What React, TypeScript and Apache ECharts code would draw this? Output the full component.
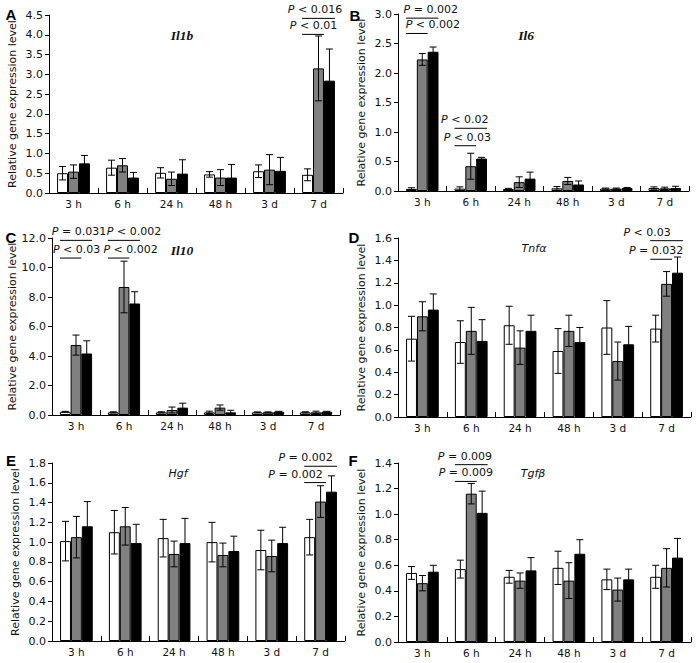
import React, { useEffect, useRef } from "react";
import * as echarts from "echarts";

const categories = ["3 h", "6 h", "24 h", "48 h", "3 d", "7 d"];

// Panel A: Il1b
const il1bWhite = [0.5, 0.64, 0.51, 0.47, 0.55, 0.46];
const il1bWhiteErr = [0.17, 0.19, 0.13, 0.07, 0.16, 0.15];
const il1bGray = [0.54, 0.7, 0.36, 0.39, 0.59, 3.15];
const il1bGrayErr = [0.17, 0.17, 0.17, 0.2, 0.38, 0.82];
const il1bBlack = [0.75, 0.39, 0.49, 0.39, 0.56, 2.84];
const il1bBlackErr = [0.2, 0.13, 0.35, 0.33, 0.34, 0.8];

// Panel B: Il6
const il6White = [0.035, 0.04, 0.035, 0.045, 0.04, 0.05];
const il6WhiteErr = [0.02, 0.03, 0.01, 0.03, 0.01, 0.02];
const il6Gray = [2.23, 0.42, 0.15, 0.17, 0.04, 0.045];
const il6GrayErr = [0.1, 0.22, 0.09, 0.06, 0.01, 0.02];
const il6Black = [2.36, 0.55, 0.21, 0.11, 0.05, 0.05];
const il6BlackErr = [0.08, 0.02, 0.11, 0.06, 0.01, 0.03];

// Panel C: Il10
const il10White = [0.22, 0.18, 0.18, 0.18, 0.18, 0.18];
const il10WhiteErr = [0.03, 0.04, 0.04, 0.08, 0.03, 0.04];
const il10Gray = [4.74, 8.68, 0.34, 0.5, 0.18, 0.18];
const il10GrayErr = [0.68, 1.75, 0.2, 0.18, 0.03, 0.08];
const il10Black = [4.17, 7.56, 0.5, 0.18, 0.22, 0.22];
const il10BlackErr = [0.86, 0.8, 0.3, 0.14, 0.03, 0.03];

// Panel D: Tnfa
const tnfWhite = [0.7, 0.67, 0.82, 0.59, 0.8, 0.79];
const tnfWhiteErr = [0.2, 0.19, 0.17, 0.2, 0.24, 0.12];
const tnfGray = [0.9, 0.77, 0.62, 0.77, 0.5, 1.19];
const tnfGrayErr = [0.13, 0.21, 0.15, 0.14, 0.17, 0.11];
const tnfBlack = [0.96, 0.68, 0.77, 0.67, 0.65, 1.29];
const tnfBlackErr = [0.14, 0.19, 0.14, 0.13, 0.16, 0.14];

// Panel E: Hgf
const hgfWhite = [1.01, 1.1, 1.04, 1.0, 0.92, 1.05];
const hgfWhiteErr = [0.2, 0.22, 0.19, 0.2, 0.2, 0.18];
const hgfGray = [1.05, 1.16, 0.88, 0.87, 0.86, 1.41];
const hgfGrayErr = [0.21, 0.19, 0.13, 0.12, 0.16, 0.16];
const hgfBlack = [1.16, 0.99, 0.99, 0.91, 0.99, 1.51];
const hgfBlackErr = [0.25, 0.19, 0.25, 0.15, 0.16, 0.16];

// Panel F: Tgfb
const tgfWhite = [0.54, 0.57, 0.51, 0.58, 0.49, 0.51];
const tgfWhiteErr = [0.05, 0.07, 0.05, 0.13, 0.08, 0.09];
const tgfGray = [0.46, 1.16, 0.48, 0.48, 0.41, 0.58];
const tgfGrayErr = [0.06, 0.08, 0.06, 0.14, 0.09, 0.15];
const tgfBlack = [0.55, 1.01, 0.56, 0.69, 0.49, 0.66];
const tgfBlackErr = [0.05, 0.17, 0.1, 0.11, 0.08, 0.15];

// y-axis ranges
const yMax = [4.5, 3.0, 12.0, 1.6, 1.8, 1.4];
const yInterval = [0.5, 0.5, 2.0, 0.2, 0.2, 0.2];

// significance annotations: [category, last bar compared (1 gray / 2 black), line level, text]
const annA = [[5, 2, 4.415, "< 0.016"], [5, 1, 4.01, "< 0.01"]];
const annB = [[0, 2, 2.93, "= 0.002"], [0, 1, 2.67, "< 0.002"], [1, 2, 1.063, "< 0.02"], [1, 1, 0.768, "< 0.03"]];
const annC = [[0, 2, 11.84, "= 0.031"], [0, 1, 10.64, "< 0.03"], [1, 2, 11.84, "< 0.002"], [1, 1, 10.64, "< 0.002"]];
const annD = [[5, 2, 1.576, "< 0.03"], [5, 1, 1.41, "= 0.032"]];
const annE = [[5, 2, 1.767, "= 0.002"], [5, 1, 1.602, "= 0.002"]];
const annF = [[1, 2, 1.387, "= 0.009"], [1, 1, 1.256, "= 0.009"]];
const annTextShift = [[-3.5, 0.5], [8.5, 16, -6, 2], [3, 6, 10, 12], [-19.5, -5], [-15, -19.6], [-6.3, 0]];

const geneNames = ["Il1b", "Il6", "Il10", "Tnfα", "Hgf", "Tgfβ"];
const panelLetters = ["A", "B", "C", "D", "E", "F"];

const panels = [
  { w: il1bWhite, we: il1bWhiteErr, g: il1bGray, ge: il1bGrayErr, b: il1bBlack, be: il1bBlackErr, ann: annA },
  { w: il6White, we: il6WhiteErr, g: il6Gray, ge: il6GrayErr, b: il6Black, be: il6BlackErr, ann: annB },
  { w: il10White, we: il10WhiteErr, g: il10Gray, ge: il10GrayErr, b: il10Black, be: il10BlackErr, ann: annC },
  { w: tnfWhite, we: tnfWhiteErr, g: tnfGray, ge: tnfGrayErr, b: tnfBlack, be: tnfBlackErr, ann: annD },
  { w: hgfWhite, we: hgfWhiteErr, g: hgfGray, ge: hgfGrayErr, b: hgfBlack, be: hgfBlackErr, ann: annE },
  { w: tgfWhite, we: tgfWhiteErr, g: tgfGray, ge: tgfGrayErr, b: tgfBlack, be: tgfBlackErr, ann: annF },
];

// layout
const gridRects = [
  { left: 49, top: 15, width: 294, height: 178 },
  { left: 398, top: 14, width: 291, height: 177 },
  { left: 52, top: 238, width: 288, height: 177 },
  { left: 398, top: 238, width: 293, height: 179 },
  { left: 52, top: 463, width: 293, height: 178 },
  { left: 398, top: 463, width: 293, height: 179 },
];
const letterPos = [[11, 14], [355, 15], [11, 237], [354, 237], [11, 460], [353, 460]];
const genePos = [[182, 35], [526, 35], [182, 250], [534, 248], [178, 473], [533, 473]];
const serifGene = [true, true, true, false, false, false];

const GAP = 0.33;
const FONT = "'DejaVu Sans', Verdana, sans-serif";
const barColors = ["#ffffff", "#808080", "#000000"];

function errorSeries(gi: number, si: number, vals: number[], errs: number[]) {
  return {
    type: "custom",
    xAxisIndex: gi,
    yAxisIndex: gi,
    z: 5,
    silent: true,
    encode: { x: 0, y: 1 },
    data: vals.map((v, i) => [i, v, errs[i]]),
    renderItem: (params: any, api: any) => {
      const c = api.value(0);
      const v = api.value(1);
      const e = api.value(2);
      const band = api.size([1, 0])[0];
      const bw = (band * (1 - GAP)) / 3;
      const center = api.coord([c, v]);
      const x = center[0] + (si - 1) * bw;
      const yt = api.coord([c, v + e])[1];
      const yb = api.coord([c, Math.max(v - e, 0)])[1];
      const cap = 3.5;
      const style = { stroke: "#000", lineWidth: 1, fill: null };
      return {
        type: "group",
        children: [
          { type: "line", shape: { x1: x, y1: yt, x2: x, y2: yb }, style },
          { type: "line", shape: { x1: x - cap, y1: yt, x2: x + cap, y2: yt }, style },
          { type: "line", shape: { x1: x - cap, y1: yb, x2: x + cap, y2: yb }, style },
        ],
      };
    },
  };
}

export default function App() {
  const ref = useRef<HTMLDivElement>(null);
  useEffect(() => {
    if (!ref.current) return;
    const chart = echarts.init(ref.current, null, { renderer: "svg" });
    const grid = gridRects.map((r) => ({ ...r, containLabel: false, outerBoundsMode: "none" }));
    const xAxis = gridRects.map((_, i) => ({
      type: "category",
      gridIndex: i,
      data: categories,
      boundaryGap: true,
      axisLine: { show: true, lineStyle: { color: "#000", width: 1 } },
      axisTick: { show: true, inside: true, length: 5, interval: 0, lineStyle: { color: "#000" } },
      axisLabel: { interval: 0, margin: 5, color: "#111", fontSize: 10.5, fontFamily: FONT },
      splitLine: { show: false },
    }));
    const yAxis = gridRects.map((_, i) => ({
      type: "value",
      gridIndex: i,
      min: 0,
      max: yMax[i],
      interval: yInterval[i],
      name: "Relative gene expression level",
      nameLocation: "middle",
      nameGap: 31,
      nameTextStyle: { fontSize: 11, fontFamily: FONT, color: "#111" },
      axisLine: { show: true, lineStyle: { color: "#000", width: 1 } },
      axisTick: { show: true, inside: false, length: 4, lineStyle: { color: "#000" } },
      axisLabel: {
        margin: 6,
        color: "#111",
        fontSize: 11,
        fontFamily: FONT,
        showMinLabel: true,
        showMaxLabel: true,
        formatter: (v: number) => v.toFixed(1),
      },
      splitLine: { show: false },
    }));
    const series: any[] = [];
    panels.forEach((p, gi) => {
      const sets = [p.w, p.g, p.b];
      sets.forEach((vals, si) => {
        series.push({
          type: "bar",
          xAxisIndex: gi,
          yAxisIndex: gi,
          data: vals,
          barGap: "0%",
          barCategoryGap: GAP * 100 + "%",
          itemStyle: { color: barColors[si], borderColor: "#000", borderWidth: 1 },
          silent: true,
        });
      });
      const errs = [p.we, p.ge, p.be];
      sets.forEach((vals, si) => series.push(errorSeries(gi, si, vals, errs[si])));
    });
    chart.setOption({
      animation: false,
      backgroundColor: "#fff",
      grid,
      xAxis,
      yAxis,
      series,
    });

    const graphic: any[] = [];
    panelLetters.forEach((l, i) => {
      graphic.push({
        type: "text",
        x: letterPos[i][0],
        y: letterPos[i][1],
        style: {
          text: l,
          fontSize: 15,
          fontWeight: "bold",
          fontFamily: "'Liberation Sans', Arial, sans-serif",
          fill: "#000",
          align: "center",
          verticalAlign: "middle",
        },
      });
    });
    geneNames.forEach((g, i) => {
      graphic.push({
        type: "text",
        x: genePos[i][0],
        y: genePos[i][1],
        style: {
          text: g,
          fontSize: serifGene[i] ? 13.5 : 11,
          fontStyle: "italic",
          fontWeight: serifGene[i] ? "bold" : "normal",
          fontFamily: serifGene[i] ? "'Liberation Serif', 'Times New Roman', serif" : FONT,
          fill: "#111",
          align: "center",
          verticalAlign: "middle",
        },
      });
    });
    panels.forEach((p, gi) => {
      p.ann.forEach((a: any, ai: number) => {
        const [cat, to, level, txt] = a;
        const c0 = chart.convertToPixel({ gridIndex: gi }, [cat, level]) as number[];
        const c1 = chart.convertToPixel({ gridIndex: gi }, [cat + 1, level]) as number[];
        const band = c1[0] - c0[0];
        const bw = (band * (1 - GAP)) / 3;
        const x1 = c0[0] - 1.5 * bw;
        const x2 = x1 + (to + 1) * bw;
        const y = c0[1];
        graphic.push({
          type: "line",
          shape: { x1, y1: y, x2, y2: y },
          style: { stroke: "#000", lineWidth: 1 },
        });
        graphic.push({
          type: "text",
          x: (x1 + x2) / 2 + annTextShift[gi][ai],
          y: y - 8.5,
          style: {
            text: "{i|P} " + txt,
            fontSize: 11,
            fontFamily: FONT,
            fill: "#111",
            align: "center",
            verticalAlign: "middle",
            rich: { i: { fontStyle: "italic", fontSize: 11, fontFamily: FONT, fill: "#111" } },
          },
        });
      });
    });
    chart.setOption({ graphic });
    return () => chart.dispose();
  }, []);
  return (
    <div
      ref={ref}
      style={{ position: "absolute", left: 0, top: 0, width: 696, height: 663, background: "#fff" }}
    />
  );
}
